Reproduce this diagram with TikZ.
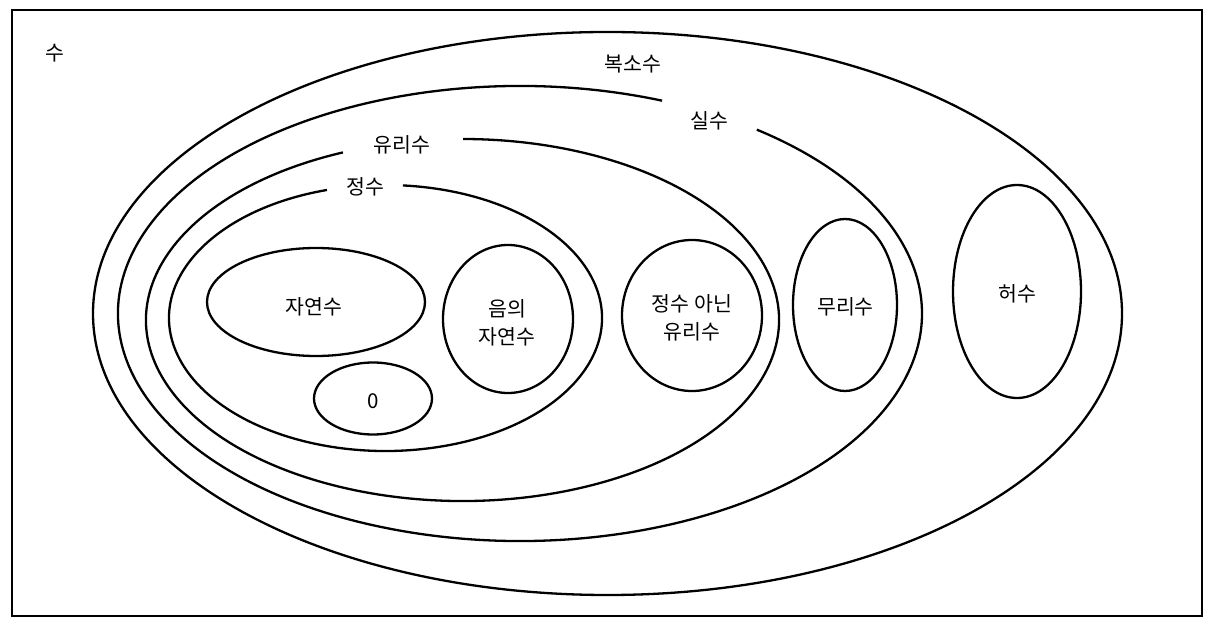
\documentclass[tikz,border=0pt]{standalone}
\usepackage{fontspec}
\setmainfont{Noto Sans CJK KR}
\usetikzlibrary{shapes.geometric, positioning}
\definecolor{setline}{HTML}{000000}

\tikzset{
  setfont/.style={font=\fontsize{20.5}{28}\selectfont},
  setlabel/.style={setfont, inner sep=1pt, align=center},
  bigset/.style={draw=setline, line width=2.3pt},
  subset/.style={bigset, ellipse, inner sep=0pt}
}

\begin{document}
\begin{tikzpicture}[x=1pt, y=1pt]
  \useasboundingbox (0,0) rectangle (1214,629);
  \draw[setline, line width=2.5pt] (12,13) rectangle (1202,619);

  \node[setlabel] (number) at (54.5,576) {수};

  % nested sets, each left open where its name sits
  \draw[bigset] (607.5,315.5) ellipse [x radius=514.5, y radius=281.5];
  \draw[bigset] (520,315.5) ++(69.3:402 and 227.5) arc [start angle=69.3, end angle=413.9, x radius=402, y radius=227.5];
  \draw[bigset] (462.5,309) ++(112.2:316.5 and 181) arc [start angle=112.2, end angle=449.9, x radius=316.5, y radius=181];
  \draw[bigset] (385.5,311) ++(105.7:216.5 and 133) arc [start angle=105.7, end angle=445.4, x radius=216.5, y radius=133];

  \node[setlabel] (complex) at (633,565) {복소수};
  \node[setlabel] (real) at (709,508) {실수};
  \node[setlabel] (rational) at (402,484.5) {유리수};
  \node[setlabel] (integer) at (365,442.5) {정수};

  % inner sets
  \foreach \nm/\cx/\cy/\w/\h/\tx/\ty/\txt in {natural/316/327/218/108/314/322/자연수, zero/373/230.5/118/72/373/228/0, negative/508/310/130/148/507/306.5/{음의\\자연수}, fraction/692/313.5/140/151/692/311/{정수 아닌\\유리수}, irrational/845/324/104/172/845.5/322/무리수, imaginary/1017/337.5/128/213/1017/335/허수} {
    \node[subset, minimum width=\w pt, minimum height=\h pt] (\nm) at (\cx,\cy) {};
    \node[setlabel] (\nm-name) at (\tx,\ty) {\txt};
  }
\end{tikzpicture}
\end{document}
